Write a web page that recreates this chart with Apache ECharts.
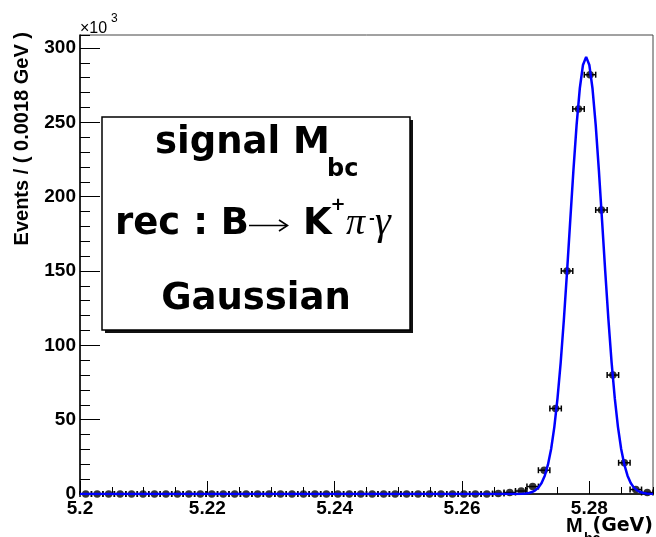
<!DOCTYPE html>
<html>
<head>
<meta charset="utf-8">
<script src="https://cdn.jsdelivr.net/npm/echarts@6/dist/echarts.min.js"></script>
<style>
  html, body { margin: 0; padding: 0; background: #fff; }
  #chart { width: 656px; height: 537px; }
</style>
</head>
<body>
<div id="chart"></div>
<script>
// Binned M_bc distribution (bin width 0.0018 GeV), counts in units of 10^3
const binCenters = [
  5.2009, 5.2027, 5.2045, 5.2063, 5.2081, 5.2099, 5.2117, 5.2135, 5.2153, 5.2171,
  5.2189, 5.2207, 5.2225, 5.2243, 5.2261, 5.2279, 5.2297, 5.2315, 5.2333, 5.2351,
  5.2369, 5.2387, 5.2405, 5.2423, 5.2441, 5.2459, 5.2477, 5.2495, 5.2513, 5.2531,
  5.2549, 5.2567, 5.2585, 5.2603, 5.2621, 5.2639, 5.2657, 5.2675, 5.2693, 5.2711,
  5.2729, 5.2747, 5.2765, 5.2783, 5.2801, 5.2819, 5.2837, 5.2855, 5.2873, 5.2891
];
const binCounts = [
  0, 0, 0, 0, 0, 0, 0, 0, 0, 0,
  0, 0, 0, 0, 0, 0, 0, 0, 0, 0,
  0, 0, 0, 0, 0, 0, 0, 0, 0, 0,
  0, 0, 0, 0, 0, 0, 0.3, 1, 2, 5,
  16, 57.5, 150, 259, 282, 191, 80, 21, 3, 1
];
const binHalfWidth = 0.0009;

// Gaussian fit curve, sampled points (x in GeV, y in 10^3 events)
const fitX = [
  5.2000, 5.2685, 5.2690, 5.2695, 5.2700, 5.2705, 5.2710, 5.2715, 5.2720, 5.2725,
  5.2730, 5.2735, 5.2740, 5.2745, 5.2750, 5.2755, 5.2760, 5.2765, 5.2770, 5.2775,
  5.2780, 5.2785, 5.2790, 5.2795, 5.2800, 5.2805, 5.2810, 5.2815, 5.2820, 5.2825,
  5.2830, 5.2835, 5.2840, 5.2845, 5.2850, 5.2855, 5.2860, 5.2865, 5.2870, 5.2875,
  5.2880, 5.2885, 5.2890, 5.2895, 5.2900
];
const fitY = [
  0, 0.03, 0.07, 0.16, 0.34, 0.67, 1.3, 2.4, 4.3, 7.4,
  12.3, 19.7, 30.3, 45.0, 64.3, 88.4, 117.2, 149.6, 183.9, 217.7,
  248.3, 272.7, 288.5, 294, 288.5, 272.7, 248.3, 217.7, 183.9, 149.6,
  117.2, 88.4, 64.3, 45.0, 30.3, 19.7, 12.3, 7.4, 4.3, 2.4,
  1.3, 0.67, 0.34, 0.16, 0.07
];

// Axis settings
const xMin = 5.2, xMax = 5.29, xMajor = 0.02, xMinor = 0.005;
const yMin = 0, yMax = 308.7, yMajor = 50, yMinor = 10;

const pointData = binCenters.map((x, i) => [x, binCounts[i]]);
const fitData = fitX.map((x, i) => [x, fitY[i]]);

const tickFont = { fontFamily: 'Liberation Sans', fontWeight: 'bold', fontSize: 19, color: '#000' };
const isMultiple = (v, step) => Math.abs(v / step - Math.round(v / step)) < 1e-6;

// Text placed by its baseline: the em-box middle sits ~0.3em above the baseline
function label(text, x, baseline, font, size, align, z) {
  return {
    type: 'text', x: x, y: baseline - 0.3 * size, z: z || 12,
    style: { text: text, font: font.replace('SIZE', size + 'px'), fill: '#000', align: align || 'left', verticalAlign: 'middle' }
  };
}

const chart = echarts.init(document.getElementById('chart'), null, { renderer: 'canvas' });

const option = {
  animation: false,
  backgroundColor: '#fff',
  grid: { left: 80, right: 3, top: 35, bottom: 43, show: true, borderColor: '#444', borderWidth: 1, backgroundColor: 'transparent' },
  xAxis: [
    {
      type: 'value', min: xMin, max: xMax, interval: xMajor, position: 'bottom',
      axisLine: { show: true, onZero: false, lineStyle: { color: '#000', width: 1.5 } },
      axisTick: { show: true, inside: true, length: 13, lineStyle: { color: '#000', width: 1 } },
      axisLabel: Object.assign({
        margin: 5, showMaxLabel: false,
        formatter: v => isMultiple(v, xMajor) ? String(parseFloat(v.toFixed(3))) : ''
      }, tickFont),
      splitLine: { show: false }
    },
    {
      type: 'value', min: xMin, max: xMax, interval: xMinor, position: 'bottom',
      axisLine: { show: false },
      axisTick: { show: true, inside: true, length: 7, lineStyle: { color: '#000', width: 1 } },
      axisLabel: { show: false },
      splitLine: { show: false }
    }
  ],
  yAxis: [
    {
      type: 'value', min: yMin, max: yMax, interval: yMajor, position: 'left',
      axisLine: { show: true, onZero: false, lineStyle: { color: '#000', width: 1.5 } },
      axisTick: { show: true, inside: true, length: 20, lineStyle: { color: '#000', width: 1 } },
      axisLabel: Object.assign({
        margin: 4, showMaxLabel: false,
        formatter: v => isMultiple(v, yMajor) ? String(Math.round(v)) : ''
      }, tickFont),
      splitLine: { show: false }
    },
    {
      type: 'value', min: yMin, max: yMax, interval: yMinor, position: 'left',
      axisLine: { show: false },
      axisTick: { show: true, inside: true, length: 10, lineStyle: { color: '#000', width: 1 } },
      axisLabel: { show: false },
      splitLine: { show: false }
    }
  ],
  series: [
    {
      // horizontal bin-width bars with end caps
      type: 'custom',
      xAxisIndex: 0, yAxisIndex: 0,
      z: 3,
      data: pointData,
      renderItem: (params, api) => {
        const x = api.value(0), y = api.value(1);
        const p0 = api.coord([x - binHalfWidth, y]);
        const p1 = api.coord([x + binHalfWidth, y]);
        const style = { stroke: '#000', lineWidth: 1.5, fill: null };
        return {
          type: 'group',
          children: [
            { type: 'line', shape: { x1: p0[0], y1: p0[1], x2: p1[0], y2: p1[1] }, style },
            { type: 'line', shape: { x1: p0[0], y1: p0[1] - 3, x2: p0[0], y2: p0[1] + 3 }, style },
            { type: 'line', shape: { x1: p1[0], y1: p1[1] - 3, x2: p1[0], y2: p1[1] + 3 }, style }
          ]
        };
      }
    },
    {
      type: 'scatter',
      xAxisIndex: 0, yAxisIndex: 0,
      z: 4,
      symbol: 'circle', symbolSize: 7.5,
      itemStyle: { color: '#000' },
      data: pointData
    },
    {
      type: 'line',
      xAxisIndex: 0, yAxisIndex: 0,
      z: 5,
      showSymbol: false,
      smooth: false,
      lineStyle: { color: '#0000ff', width: 2.5 },
      data: fitData
    }
  ],
  graphic: [
    // y-axis title
    {
      type: 'text', x: 22, y: 32, rotation: Math.PI / 2,
      style: { text: 'Events / ( 0.0018 GeV )', font: 'bold 20px "Liberation Sans"', fill: '#000', align: 'right', verticalAlign: 'middle' }
    },
    // exponent marker
    label('\u00d710', 80, 33, 'SIZE "Liberation Sans"', 16),
    label('3', 111, 22, 'SIZE "Liberation Sans"', 12),
    // x-axis title
    label('M', 566, 532, 'bold SIZE "Liberation Sans"', 20),
    label('bc', 584, 543, 'bold SIZE "Liberation Sans"', 14),
    label('(GeV)', 653, 532, 'bold SIZE "DejaVu Sans"', 19, 'right'),
    // text box with drop shadow
    {
      type: 'rect', shape: { x: 105, y: 120, width: 308, height: 213 },
      style: { fill: '#111' }, z: 10
    },
    {
      type: 'rect', shape: { x: 102, y: 117, width: 308, height: 213 },
      style: { fill: '#fff', stroke: '#000', lineWidth: 1.5 }, z: 11
    },
    label('signal M', 155, 154, 'bold SIZE "DejaVu Sans"', 37),
    label('bc', 327, 177, 'bold SIZE "DejaVu Sans"', 24),
    label('rec : B', 115, 235, 'bold SIZE "DejaVu Sans"', 37),
    // decay arrow
    {
      type: 'polyline', z: 12,
      shape: { points: [[249, 225.5], [287, 225.5]] },
      style: { stroke: '#000', lineWidth: 1.6, fill: null }
    },
    {
      type: 'polyline', z: 12,
      shape: { points: [[279, 220], [287.5, 225.5], [279, 231]] },
      style: { stroke: '#000', lineWidth: 1.6, fill: null }
    },
    label('K', 303, 235, 'bold SIZE "DejaVu Sans"', 37),
    label('+', 338, 211, 'bold SIZE "DejaVu Sans"', 18, 'center'),
    label('\u03c0', 346, 235, 'italic SIZE "Liberation Serif"', 38),
    label('-', 372, 224, 'bold SIZE "DejaVu Sans"', 14, 'center'),
    label('\u03b3', 375, 235, 'italic SIZE "Liberation Serif"', 40),
    label('Gaussian', 256, 310, 'bold SIZE "DejaVu Sans"', 37, 'center')
  ]
};

chart.setOption(option);
</script>
</body>
</html>
